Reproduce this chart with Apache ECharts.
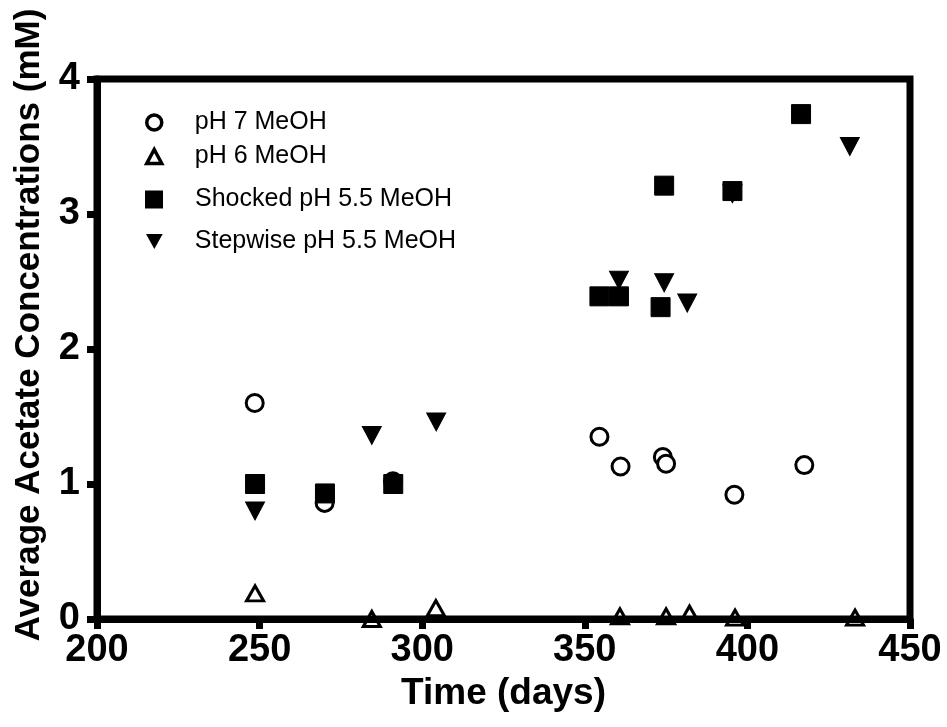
<!DOCTYPE html>
<html><head><meta charset="utf-8">
<script src="https://cdn.jsdelivr.net/npm/echarts@6/dist/echarts.min.js"></script>
<style>html,body{margin:0;padding:0;background:#fff}#c{width:947px;height:727px}</style>
</head><body><div id="c"></div>
<script>
const seriesNames = ['pH 7 MeOH', 'pH 6 MeOH', 'Shocked pH 5.5 MeOH', 'Stepwise pH 5.5 MeOH'];
const ph7Days = [248.5, 270, 291, 354.5, 361, 374, 375, 396, 417.5];
const ph7Values = [1.60, 0.86, 1.02, 1.35, 1.13, 1.20, 1.15, 0.92, 1.14];
const ph6Days = [248.6, 284.5, 304.2, 360.8, 375, 382.2, 396.2, 433.1];
const ph6Values = [0.19, 0.0, 0.08, 0.02, 0.02, 0.04, 0.01, 0.01];
const shockedDays = [248.6, 270.1, 291.1, 354.5, 360.5, 373.3, 374.4, 395.4, 416.5];
const shockedValues = [1.00, 0.93, 1.00, 2.39, 2.39, 2.31, 3.21, 3.17, 3.74];
const stepwiseDays = [248.6, 284.5, 304.3, 360.5, 374.4, 381.5, 395.4, 431.5];
const stepwiseValues = [0.80, 1.36, 1.46, 2.51, 2.49, 2.34, 3.15, 3.50];
const xTicks = [200, 250, 300, 350, 400, 450];
const yTicks = [0, 1, 2, 3, 4];
const xTitle = 'Time (days)';
const yTitle = 'Average Acetate Concentrations (mM)';

const FONT = "'Liberation Sans', Arial, sans-serif";
const zip = (xs, ys) => xs.map((x, i) => [x, ys[i]]);
const chart = echarts.init(document.getElementById('c'));

function legendRow(name, opts, textPad) {
  return Object.assign({
    data: [name], orient: 'vertical', padding: 0, selectedMode: false,
    textStyle: { fontFamily: FONT, fontSize: 25, color: '#000', padding: [0, 0, 0, textPad] }
  }, opts);
}

chart.setOption({
  animation: false,
  backgroundColor: '#fff',
  grid: { left: 97, right: 37, top: 79, bottom: 108, show: true, borderColor: '#000', borderWidth: 7, backgroundColor: 'transparent' },
  xAxis: {
    type: 'value', min: xTicks[0], max: xTicks[xTicks.length - 1], interval: xTicks[1] - xTicks[0],
    name: xTitle, nameLocation: 'middle', nameGap: 45,
    nameTextStyle: { fontFamily: FONT, fontWeight: 'bold', fontSize: 37, color: '#000' },
    axisLine: { show: true, onZero: false, lineStyle: { color: '#000', width: 7 } },
    axisTick: { show: true, inside: false, length: 10, lineStyle: { color: '#000', width: 7 } },
    axisLabel: { fontFamily: FONT, fontWeight: 'bold', fontSize: 38, color: '#000', margin: 13 },
    splitLine: { show: false }
  },
  yAxis: {
    type: 'value', min: yTicks[0], max: yTicks[yTicks.length - 1], interval: yTicks[1] - yTicks[0],
    name: yTitle, nameLocation: 'middle', nameGap: 50, nameRotate: 90,
    nameTextStyle: { fontFamily: FONT, fontWeight: 'bold', fontSize: 35, color: '#000', padding: [0, 0, 0, 48] },
    axisLine: { show: true, onZero: false, lineStyle: { color: '#000', width: 7 } },
    axisTick: { show: true, inside: false, length: 10, lineStyle: { color: '#000', width: 7 } },
    axisLabel: { fontFamily: FONT, fontWeight: 'bold', fontSize: 38, color: '#000', margin: 17 },
    splitLine: { show: false }
  },
  legend: [
    legendRow(seriesNames[0], { left: 145, top: 110, itemWidth: 15, itemHeight: 15, itemStyle: { borderWidth: 3.5 } }, 28),
    legendRow(seriesNames[1], { left: 145, top: 144, itemWidth: 15, itemHeight: 14, itemStyle: { borderWidth: 3.5 } }, 28),
    legendRow(seriesNames[2], { left: 145, top: 187, itemWidth: 18, itemHeight: 18, itemStyle: { borderWidth: 0 } }, 27),
    legendRow(seriesNames[3], { left: 146, top: 229, itemWidth: 17, itemHeight: 15, icon: 'path://M0,0L10,0L5,9Z', itemStyle: { borderWidth: 0 } }, 27)
  ],
  series: [
    { name: seriesNames[0], type: 'scatter', data: zip(ph7Days, ph7Values), symbol: 'circle', symbolSize: 17,
      itemStyle: { color: '#fff', borderColor: '#000', borderWidth: 3, opacity: 1 } },
    { name: seriesNames[1], type: 'scatter', data: zip(ph6Days, ph6Values), symbol: 'triangle', symbolSize: [17, 15],
      itemStyle: { color: 'rgba(255,255,255,0)', borderColor: '#000', borderWidth: 3, opacity: 1 } },
    { name: seriesNames[3], type: 'scatter', data: zip(stepwiseDays, stepwiseValues), symbol: 'triangle', symbolRotate: 180, symbolSize: [19, 18],
      itemStyle: { color: '#000', borderColor: '#000', opacity: 1 } },
    { name: seriesNames[2], type: 'scatter', data: zip(shockedDays, shockedValues), symbol: 'rect', symbolSize: 19,
      itemStyle: { color: '#000', borderColor: '#000', opacity: 1 } }
  ]
});
</script>
</body></html>
